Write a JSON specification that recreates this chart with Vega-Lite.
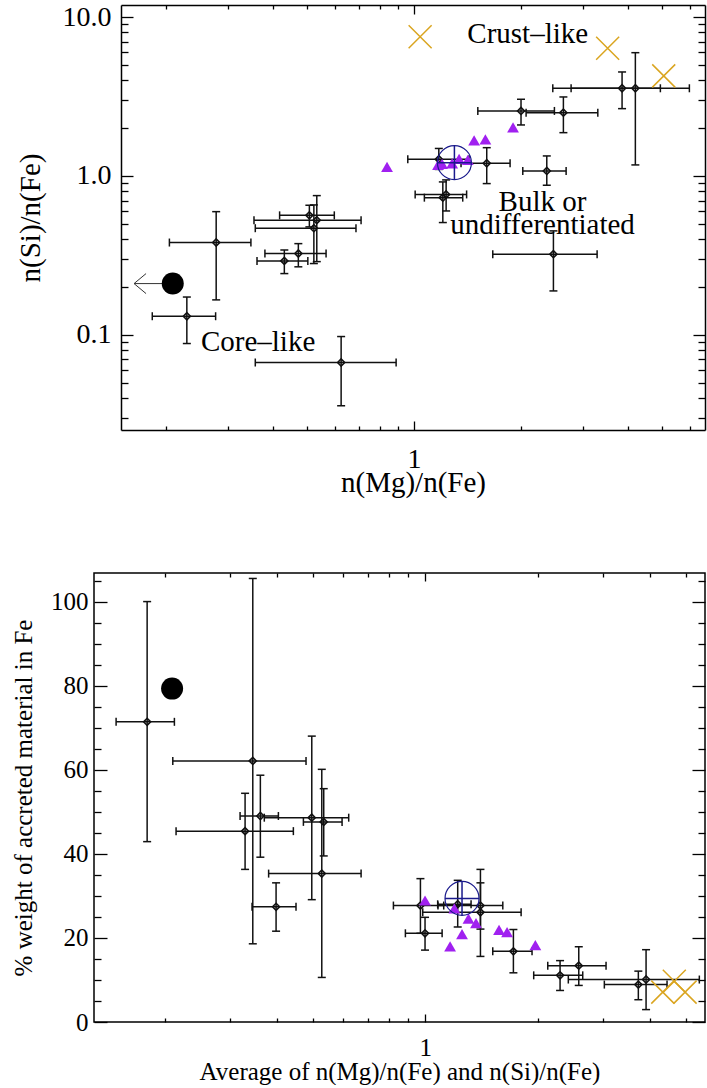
{
  "$schema": "https://vega.github.io/schema/vega-lite/v6.json",
  "padding": {"left": 10, "top": 3, "right": 0, "bottom": 0},
  "background": "white",
  "config": {
    "font": "Liberation Serif, Times New Roman, DejaVu Serif, serif",
    "axis": {"labelFont": "Liberation Serif, Times New Roman, DejaVu Serif, serif", "titleFont": "Liberation Serif, Times New Roman, DejaVu Serif, serif", "labelColor": "black", "titleColor": "black", "tickColor": "black", "domainColor": "black", "grid": false, "titleFontWeight": "normal", "tickWidth": 1.3, "domainWidth": 1.5, "labelOverlap": false, "labelFlush": false},
    "text": {"font": "Liberation Serif, Times New Roman, DejaVu Serif, serif"}
  },
  "datasets": {
    "top_pts": [
      {"mg": 0.277, "mg_lo": 0.2045, "mg_hi": 0.347, "si": 0.381, "si_lo": 0.166, "si_hi": 0.596},
      {"mg": 0.229, "mg_lo": 0.183, "mg_hi": 0.276, "si": 0.131, "si_lo": 0.0882, "si_hi": 0.173},
      {"mg": 0.623, "mg_lo": 0.357, "mg_hi": 0.890, "si": 0.067, "si_lo": 0.0358, "si_hi": 0.0976},
      {"mg": 0.507, "mg_lo": 0.418, "mg_hi": 0.596, "si": 0.565, "si_lo": 0.478, "si_hi": 0.654},
      {"mg": 0.532, "mg_lo": 0.354, "mg_hi": 0.709, "si": 0.527, "si_lo": 0.289, "si_hi": 0.752},
      {"mg": 0.522, "mg_lo": 0.357, "mg_hi": 0.686, "si": 0.469, "si_lo": 0.281, "si_hi": 0.657},
      {"mg": 0.472, "mg_lo": 0.380, "mg_hi": 0.565, "si": 0.325, "si_lo": 0.268, "si_hi": 0.375},
      {"mg": 0.431, "mg_lo": 0.361, "mg_hi": 0.502, "si": 0.292, "si_lo": 0.243, "si_hi": 0.342},
      {"mg": 1.174, "mg_lo": 0.960, "mg_hi": 1.428, "si": 1.274, "si_lo": 1.099, "si_hi": 1.489},
      {"mg": 1.602, "mg_lo": 1.356, "mg_hi": 1.864, "si": 1.202, "si_lo": 0.895, "si_hi": 1.506},
      {"mg": 2.365, "mg_lo": 2.024, "mg_hi": 2.681, "si": 1.075, "si_lo": 0.874, "si_hi": 1.336},
      {"mg": 1.231, "mg_lo": 1.007, "mg_hi": 1.406, "si": 0.765, "si_lo": 0.602, "si_hi": 0.944},
      {"mg": 1.205, "mg_lo": 1.069, "mg_hi": 1.371, "si": 0.730, "si_lo": 0.509, "si_hi": 0.917},
      {"mg": 2.001, "mg_lo": 1.512, "mg_hi": 2.485, "si": 2.564, "si_lo": 2.093, "si_hi": 3.037},
      {"mg": 2.634, "mg_lo": 2.068, "mg_hi": 3.293, "si": 2.501, "si_lo": 1.872, "si_hi": 3.14},
      {"mg": 3.854, "mg_lo": 2.459, "mg_hi": 5.964, "si": 3.561, "si_lo": 2.651, "si_hi": 4.51},
      {"mg": 4.201, "mg_lo": 2.769, "mg_hi": 4.941, "si": 3.561, "si_lo": 1.173, "si_hi": 5.964},
      {"mg": 2.469, "mg_lo": 1.666, "mg_hi": 3.278, "si": 0.322, "si_lo": 0.189, "si_hi": 0.451}
    ],
    "top_tri": [
      {"mg": 0.839, "si": 1.139}, {"mg": 1.168, "si": 1.172}, {"mg": 1.199, "si": 1.19},
      {"mg": 1.28, "si": 1.198}, {"mg": 1.339, "si": 1.279}, {"mg": 1.417, "si": 1.26},
      {"mg": 1.476, "si": 1.672}, {"mg": 1.588, "si": 1.696}, {"mg": 1.90, "si": 2.018}
    ],
    "top_crust": [{"mg": 1.040, "si": 7.52}, {"mg": 3.51, "si": 6.36}, {"mg": 5.05, "si": 4.26}],
    "top_core": [{"mg": 0.209, "si": 0.2102, "tip": 0.1627, "head": 0.1735}],
    "top_earth": [{"mg": 1.299, "si": 1.212}],
    "top_text": [
      {"mg": 2.09, "si": 6.89, "label": "Crust–like"},
      {"mg": 2.30, "si": 0.6025, "label": "Bulk or"},
      {"mg": 2.30, "si": 0.43, "label": "undifferentiated"},
      {"mg": 0.3635, "si": 0.0793, "label": "Core–like"}
    ],
    "bot_pts": [
      {"avg": 0.1795, "avg_lo": 0.1482, "avg_hi": 0.2124, "fe": 71.4, "fe_lo": 42.9, "fe_hi": 100},
      {"avg": 0.3446, "avg_lo": 0.2103, "avg_hi": 0.4787, "fe": 62.1, "fe_lo": 18.6, "fe_hi": 105.5},
      {"avg": 0.3286, "avg_lo": 0.2146, "avg_hi": 0.4427, "fe": 45.4, "fe_lo": 36.3, "fe_hi": 54.4},
      {"avg": 0.3611, "avg_lo": 0.3186, "avg_hi": 0.4036, "fe": 49.0, "fe_lo": 39.2, "fe_hi": 58.7},
      {"avg": 0.4960, "avg_lo": 0.370, "avg_hi": 0.623, "fe": 48.6, "fe_lo": 29.1, "fe_hi": 68.0},
      {"avg": 0.534, "avg_lo": 0.471, "avg_hi": 0.598, "fe": 47.6, "fe_lo": 39.5, "fe_hi": 55.5},
      {"avg": 0.5276, "avg_lo": 0.380, "avg_hi": 0.6725, "fe": 35.3, "fe_lo": 10.6, "fe_hi": 60.1},
      {"avg": 0.3979, "avg_lo": 0.343, "avg_hi": 0.450, "fe": 27.4, "fe_lo": 21.6, "fe_hi": 33.1},
      {"avg": 0.970, "avg_lo": 0.821, "avg_hi": 1.12, "fe": 27.7, "fe_lo": 21.1, "fe_hi": 34.1},
      {"avg": 0.998, "avg_lo": 0.884, "avg_hi": 1.109, "fe": 21.1, "fe_lo": 17.1, "fe_hi": 24.9},
      {"avg": 1.221, "avg_lo": 1.079, "avg_hi": 1.326, "fe": 28.0, "fe_lo": 22.6, "fe_hi": 33.7},
      {"avg": 1.405, "avg_lo": 1.081, "avg_hi": 1.613, "fe": 27.7, "fe_lo": 15.6, "fe_hi": 36.3},
      {"avg": 1.405, "avg_lo": 0.984, "avg_hi": 1.806, "fe": 26.1, "fe_lo": 22.1, "fe_hi": 33.1},
      {"avg": 1.722, "avg_lo": 1.516, "avg_hi": 1.932, "fe": 16.8, "fe_lo": 11.7, "fe_hi": 22.0},
      {"avg": 2.297, "avg_lo": 1.952, "avg_hi": 2.642, "fe": 11.1, "fe_lo": 7.5, "fe_hi": 14.6},
      {"avg": 2.578, "avg_lo": 2.129, "avg_hi": 3.051, "fe": 13.4, "fe_lo": 8.7, "fe_hi": 17.9},
      {"avg": 3.724, "avg_lo": 3.019, "avg_hi": 4.446, "fe": 8.9, "fe_lo": 5.3, "fe_hi": 12.1},
      {"avg": 3.906, "avg_lo": 2.417, "avg_hi": 5.427, "fe": 10.1, "fe_lo": 2.95, "fe_hi": 17.2}
    ],
    "bot_tri": [
      {"avg": 0.998, "fe": 28.9}, {"avg": 1.196, "fe": 27.0}, {"avg": 1.305, "fe": 24.6},
      {"avg": 1.367, "fe": 23.5}, {"avg": 1.576, "fe": 21.9}, {"avg": 1.656, "fe": 21.4},
      {"avg": 1.972, "fe": 18.3}, {"avg": 1.254, "fe": 20.9}, {"avg": 1.165, "fe": 18.0}
    ],
    "bot_crust": [{"avg": 4.33, "fe": 7.1}, {"avg": 4.65, "fe": 9.7}, {"avg": 4.97, "fe": 7.1}],
    "bot_core": [{"avg": 0.2094, "fe": 79.3}],
    "bot_earth": [{"avg": 1.254, "fe": 29.4}]
  },
  "vconcat": [
    {
      "width": 611,
      "height": 425,
      "view": {"stroke": null},
      "resolve": {"axis": {"x": "independent", "y": "independent"}},
      "layer": [
        {
          "data": {"name": "top_pts"},
          "mark": {"type": "point", "opacity": 0},
          "encoding": {
            "x": {"field": "mg", "type": "quantitative", "scale": {"type": "log", "domain": [0.1494, 6.6], "range": [27, 611]},
                  "axis": {"orient": "bottom", "values": [1], "labelExpr": "'1'", "tickSize": -9, "labelPadding": 24, "labelFontSize": 28, "title": "n(Mg)/n(Fe)", "titleFontSize": 29, "titleY": 61, "titleBaseline": "alphabetic", "domain": true}},
            "y": {"field": "si", "type": "quantitative", "scale": {"type": "log", "domain": [0.0252, 11.9]},
                  "axis": {"orient": "left", "offset": -27, "values": [0.1, 1, 10], "labelExpr": "datum.value > 5 ? '10.0' : datum.value > 0.5 ? '1.0' : '0.1'", "tickSize": -12, "labelPadding": 22, "labelFontSize": 28, "title": "n(Si)/n(Fe)", "titleFontSize": 29, "titleX": -82, "titleBaseline": "alphabetic", "domain": true}}
          }
        },
        {
          "data": {"name": "top_pts"},
          "mark": {"type": "point", "opacity": 0},
          "encoding": {
            "x": {"field": "mg", "type": "quantitative", "scale": {"type": "log", "domain": [0.1494, 6.6], "range": [27, 611]},
                  "axis": {"orient": "bottom", "values": [0.2, 0.3, 0.4, 0.5, 0.6, 0.7, 0.8, 0.9, 2, 3, 4, 5, 6], "labels": false, "tickSize": -4, "domain": false, "title": null}},
            "y": {"field": "si", "type": "quantitative", "scale": {"type": "log", "domain": [0.0252, 11.9]},
                  "axis": {"orient": "left", "offset": -27, "values": [0.03, 0.04, 0.05, 0.06, 0.07, 0.08, 0.09, 0.2, 0.3, 0.4, 0.5, 0.6, 0.7, 0.8, 0.9, 2, 3, 4, 5, 6, 7, 8, 9], "labels": false, "tickSize": -7, "domain": false, "title": null}}
          }
        },
        {
          "data": {"name": "top_pts"},
          "mark": {"type": "point", "opacity": 0},
          "encoding": {
            "x": {"field": "mg", "type": "quantitative", "scale": {"type": "log", "domain": [0.1494, 6.6], "range": [27, 611]},
                  "axis": {"orient": "top", "values": [1], "labels": false, "tickSize": -9, "domain": true, "title": null}},
            "y": {"field": "si", "type": "quantitative", "scale": {"type": "log", "domain": [0.0252, 11.9]},
                  "axis": {"orient": "right", "values": [0.1, 1, 10], "labels": false, "tickSize": -12, "domain": true, "title": null}}
          }
        },
        {
          "data": {"name": "top_pts"},
          "mark": {"type": "point", "opacity": 0},
          "encoding": {
            "x": {"field": "mg", "type": "quantitative", "scale": {"type": "log", "domain": [0.1494, 6.6], "range": [27, 611]},
                  "axis": {"orient": "top", "values": [0.2, 0.3, 0.4, 0.5, 0.6, 0.7, 0.8, 0.9, 2, 3, 4, 5, 6], "labels": false, "tickSize": -4, "domain": false, "title": null}},
            "y": {"field": "si", "type": "quantitative", "scale": {"type": "log", "domain": [0.0252, 11.9]},
                  "axis": {"orient": "right", "values": [0.03, 0.04, 0.05, 0.06, 0.07, 0.08, 0.09, 0.2, 0.3, 0.4, 0.5, 0.6, 0.7, 0.8, 0.9, 2, 3, 4, 5, 6, 7, 8, 9], "labels": false, "tickSize": -7, "domain": false, "title": null}}
          }
        },
        {
          "data": {"name": "top_pts"},
          "mark": {"type": "rule", "color": "#111111", "strokeWidth": 1.5},
          "encoding": {
            "x": {"field": "mg_lo", "type": "quantitative", "scale": {"type": "log", "domain": [0.1494, 6.6], "range": [27, 611]}, "axis": null},
            "x2": {"field": "mg_hi"},
            "y": {"field": "si", "type": "quantitative", "scale": {"type": "log", "domain": [0.0252, 11.9]}, "axis": null}
          }
        },
        {
          "data": {"name": "top_pts"},
          "mark": {"type": "rule", "color": "#111111", "strokeWidth": 1.5},
          "encoding": {
            "x": {"field": "mg", "type": "quantitative", "scale": {"type": "log", "domain": [0.1494, 6.6], "range": [27, 611]}, "axis": null},
            "y": {"field": "si_lo", "type": "quantitative", "scale": {"type": "log", "domain": [0.0252, 11.9]}, "axis": null},
            "y2": {"field": "si_hi"}
          }
        },
        {
          "data": {"name": "top_pts"},
          "mark": {"type": "point", "shape": "M0,-1L0,1", "size": 64, "filled": false, "color": "#111111", "strokeWidth": 1.5, "opacity": 1},
          "encoding": {
            "x": {"field": "mg_lo", "type": "quantitative", "scale": {"type": "log", "domain": [0.1494, 6.6], "range": [27, 611]}, "axis": null},
            "y": {"field": "si", "type": "quantitative", "scale": {"type": "log", "domain": [0.0252, 11.9]}, "axis": null}
          }
        },
        {
          "data": {"name": "top_pts"},
          "mark": {"type": "point", "shape": "M0,-1L0,1", "size": 64, "filled": false, "color": "#111111", "strokeWidth": 1.5, "opacity": 1},
          "encoding": {
            "x": {"field": "mg_hi", "type": "quantitative", "scale": {"type": "log", "domain": [0.1494, 6.6], "range": [27, 611]}, "axis": null},
            "y": {"field": "si", "type": "quantitative", "scale": {"type": "log", "domain": [0.0252, 11.9]}, "axis": null}
          }
        },
        {
          "data": {"name": "top_pts"},
          "mark": {"type": "point", "shape": "M-1,0L1,0", "size": 64, "filled": false, "color": "#111111", "strokeWidth": 1.5, "opacity": 1},
          "encoding": {
            "x": {"field": "mg", "type": "quantitative", "scale": {"type": "log", "domain": [0.1494, 6.6], "range": [27, 611]}, "axis": null},
            "y": {"field": "si_lo", "type": "quantitative", "scale": {"type": "log", "domain": [0.0252, 11.9]}, "axis": null}
          }
        },
        {
          "data": {"name": "top_pts"},
          "mark": {"type": "point", "shape": "M-1,0L1,0", "size": 64, "filled": false, "color": "#111111", "strokeWidth": 1.5, "opacity": 1},
          "encoding": {
            "x": {"field": "mg", "type": "quantitative", "scale": {"type": "log", "domain": [0.1494, 6.6], "range": [27, 611]}, "axis": null},
            "y": {"field": "si_hi", "type": "quantitative", "scale": {"type": "log", "domain": [0.0252, 11.9]}, "axis": null}
          }
        },
        {
          "data": {"name": "top_pts"},
          "mark": {"type": "point", "shape": "diamond", "size": 50, "filled": false, "color": "#111111", "strokeWidth": 1.6, "opacity": 1},
          "encoding": {
            "x": {"field": "mg", "type": "quantitative", "scale": {"type": "log", "domain": [0.1494, 6.6], "range": [27, 611]}, "axis": null},
            "y": {"field": "si", "type": "quantitative", "scale": {"type": "log", "domain": [0.0252, 11.9]}, "axis": null}
          }
        },
        {
          "data": {"name": "top_tri"},
          "mark": {"type": "point", "shape": "triangle-up", "size": 140, "filled": true, "color": "#A020F0", "opacity": 1},
          "encoding": {
            "x": {"field": "mg", "type": "quantitative", "scale": {"type": "log", "domain": [0.1494, 6.6], "range": [27, 611]}, "axis": null},
            "y": {"field": "si", "type": "quantitative", "scale": {"type": "log", "domain": [0.0252, 11.9]}, "axis": null}
          }
        },
        {
          "data": {"name": "top_crust"},
          "mark": {"type": "point", "shape": "M-1,-1L1,1M-1,1L1,-1", "size": 529, "filled": false, "color": "#DAA520", "strokeWidth": 1.5, "opacity": 1},
          "encoding": {
            "x": {"field": "mg", "type": "quantitative", "scale": {"type": "log", "domain": [0.1494, 6.6], "range": [27, 611]}, "axis": null},
            "y": {"field": "si", "type": "quantitative", "scale": {"type": "log", "domain": [0.0252, 11.9]}, "axis": null}
          }
        },
        {
          "data": {"name": "top_earth"},
          "mark": {"type": "point", "shape": "circle", "size": 1156, "filled": false, "color": "#1a1a8c", "strokeWidth": 1.2, "opacity": 1},
          "encoding": {
            "x": {"field": "mg", "type": "quantitative", "scale": {"type": "log", "domain": [0.1494, 6.6], "range": [27, 611]}, "axis": null},
            "y": {"field": "si", "type": "quantitative", "scale": {"type": "log", "domain": [0.0252, 11.9]}, "axis": null}
          }
        },
        {
          "data": {"name": "top_earth"},
          "mark": {"type": "point", "shape": "M-1,0L1,0M0,-1L0,1", "size": 1156, "filled": false, "color": "#1a1a8c", "strokeWidth": 1.5, "opacity": 1},
          "encoding": {
            "x": {"field": "mg", "type": "quantitative", "scale": {"type": "log", "domain": [0.1494, 6.6], "range": [27, 611]}, "axis": null},
            "y": {"field": "si", "type": "quantitative", "scale": {"type": "log", "domain": [0.0252, 11.9]}, "axis": null}
          }
        },
        {
          "data": {"name": "top_core"},
          "mark": {"type": "rule", "color": "#333333", "strokeWidth": 1},
          "encoding": {
            "x": {"field": "tip", "type": "quantitative", "scale": {"type": "log", "domain": [0.1494, 6.6], "range": [27, 611]}, "axis": null},
            "x2": {"field": "mg"},
            "y": {"field": "si", "type": "quantitative", "scale": {"type": "log", "domain": [0.0252, 11.9]}, "axis": null}
          }
        },
        {
          "data": {"name": "top_core"},
          "mark": {"type": "point", "shape": "M0.2,-1L-1,0L0.2,1", "size": 400, "filled": false, "color": "#333333", "strokeWidth": 1, "opacity": 1},
          "encoding": {
            "x": {"field": "head", "type": "quantitative", "scale": {"type": "log", "domain": [0.1494, 6.6], "range": [27, 611]}, "axis": null},
            "y": {"field": "si", "type": "quantitative", "scale": {"type": "log", "domain": [0.0252, 11.9]}, "axis": null}
          }
        },
        {
          "data": {"name": "top_core"},
          "mark": {"type": "point", "shape": "circle", "size": 484, "filled": true, "color": "black", "opacity": 1},
          "encoding": {
            "x": {"field": "mg", "type": "quantitative", "scale": {"type": "log", "domain": [0.1494, 6.6], "range": [27, 611]}, "axis": null},
            "y": {"field": "si", "type": "quantitative", "scale": {"type": "log", "domain": [0.0252, 11.9]}, "axis": null}
          }
        },
        {
          "data": {"name": "top_text"},
          "mark": {"type": "text", "font": "Liberation Serif, Times New Roman, DejaVu Serif, serif", "fontSize": 29, "align": "center", "baseline": "alphabetic", "color": "black"},
          "encoding": {
            "x": {"field": "mg", "type": "quantitative", "scale": {"type": "log", "domain": [0.1494, 6.6], "range": [27, 611]}, "axis": null},
            "y": {"field": "si", "type": "quantitative", "scale": {"type": "log", "domain": [0.0252, 11.9]}, "axis": null},
            "text": {"field": "label", "type": "nominal"}
          }
        }
      ]
    },
    {
      "width": 611,
      "height": 449,
      "view": {"stroke": "black", "strokeWidth": 1.5},
      "resolve": {"axis": {"x": "independent", "y": "independent"}},
      "layer": [
        {
          "data": {"name": "bot_pts"},
          "mark": {"type": "point", "opacity": 0},
          "encoding": {
            "x": {"field": "avg", "type": "quantitative", "scale": {"type": "log", "domain": [0.1293, 5.62]},
                  "axis": {"orient": "bottom", "values": [1], "labelExpr": "'1'", "tickSize": -8, "labelPadding": 21, "labelFontSize": 25, "title": "Average of n(Mg)/n(Fe) and n(Si)/n(Fe)", "titleFontSize": 25, "titleY": 57, "titleBaseline": "alphabetic", "domain": false}},
            "y": {"field": "fe", "type": "quantitative", "scale": {"type": "linear", "domain": [0, 106.8], "nice": false, "zero": false},
                  "axis": {"orient": "left", "values": [0, 20, 40, 60, 80, 100], "tickSize": -13, "labelPadding": 19, "labelFontSize": 25, "title": "% weight of accreted material in Fe", "titleFontSize": 25, "titleX": -63, "titleBaseline": "alphabetic", "domain": false}}
          }
        },
        {
          "data": {"name": "bot_pts"},
          "mark": {"type": "point", "opacity": 0},
          "encoding": {
            "x": {"field": "avg", "type": "quantitative", "scale": {"type": "log", "domain": [0.1293, 5.62]},
                  "axis": {"orient": "bottom", "values": [0.2, 0.3, 0.4, 0.5, 0.6, 0.7, 0.8, 0.9, 2, 3, 4, 5], "labels": false, "tickSize": -4, "domain": false, "title": null}},
            "y": {"field": "fe", "type": "quantitative", "scale": {"type": "linear", "domain": [0, 106.8], "nice": false, "zero": false},
                  "axis": {"orient": "left", "values": [5, 10, 15, 25, 30, 35, 45, 50, 55, 65, 70, 75, 85, 90, 95, 105], "labels": false, "tickSize": -7, "domain": false, "title": null}}
          }
        },
        {
          "data": {"name": "bot_pts"},
          "mark": {"type": "point", "opacity": 0},
          "encoding": {
            "x": {"field": "avg", "type": "quantitative", "scale": {"type": "log", "domain": [0.1293, 5.62]},
                  "axis": {"orient": "top", "values": [1], "labels": false, "tickSize": -8, "domain": false, "title": null}},
            "y": {"field": "fe", "type": "quantitative", "scale": {"type": "linear", "domain": [0, 106.8], "nice": false, "zero": false},
                  "axis": {"orient": "right", "values": [0, 20, 40, 60, 80, 100], "labels": false, "tickSize": -13, "domain": false, "title": null}}
          }
        },
        {
          "data": {"name": "bot_pts"},
          "mark": {"type": "point", "opacity": 0},
          "encoding": {
            "x": {"field": "avg", "type": "quantitative", "scale": {"type": "log", "domain": [0.1293, 5.62]},
                  "axis": {"orient": "top", "values": [0.2, 0.3, 0.4, 0.5, 0.6, 0.7, 0.8, 0.9, 2, 3, 4, 5], "labels": false, "tickSize": -4, "domain": false, "title": null}},
            "y": {"field": "fe", "type": "quantitative", "scale": {"type": "linear", "domain": [0, 106.8], "nice": false, "zero": false},
                  "axis": {"orient": "right", "values": [5, 10, 15, 25, 30, 35, 45, 50, 55, 65, 70, 75, 85, 90, 95, 105], "labels": false, "tickSize": -7, "domain": false, "title": null}}
          }
        },
        {
          "data": {"name": "bot_pts"},
          "mark": {"type": "rule", "color": "#111111", "strokeWidth": 1.5},
          "encoding": {
            "x": {"field": "avg_lo", "type": "quantitative", "scale": {"type": "log", "domain": [0.1293, 5.62]}, "axis": null},
            "x2": {"field": "avg_hi"},
            "y": {"field": "fe", "type": "quantitative", "scale": {"type": "linear", "domain": [0, 106.8], "nice": false, "zero": false}, "axis": null}
          }
        },
        {
          "data": {"name": "bot_pts"},
          "mark": {"type": "rule", "color": "#111111", "strokeWidth": 1.5},
          "encoding": {
            "x": {"field": "avg", "type": "quantitative", "scale": {"type": "log", "domain": [0.1293, 5.62]}, "axis": null},
            "y": {"field": "fe_lo", "type": "quantitative", "scale": {"type": "linear", "domain": [0, 106.8], "nice": false, "zero": false}, "axis": null},
            "y2": {"field": "fe_hi"}
          }
        },
        {
          "data": {"name": "bot_pts"},
          "mark": {"type": "point", "shape": "M0,-1L0,1", "size": 64, "filled": false, "color": "#111111", "strokeWidth": 1.5, "opacity": 1},
          "encoding": {
            "x": {"field": "avg_lo", "type": "quantitative", "scale": {"type": "log", "domain": [0.1293, 5.62]}, "axis": null},
            "y": {"field": "fe", "type": "quantitative", "scale": {"type": "linear", "domain": [0, 106.8], "nice": false, "zero": false}, "axis": null}
          }
        },
        {
          "data": {"name": "bot_pts"},
          "mark": {"type": "point", "shape": "M0,-1L0,1", "size": 64, "filled": false, "color": "#111111", "strokeWidth": 1.5, "opacity": 1},
          "encoding": {
            "x": {"field": "avg_hi", "type": "quantitative", "scale": {"type": "log", "domain": [0.1293, 5.62]}, "axis": null},
            "y": {"field": "fe", "type": "quantitative", "scale": {"type": "linear", "domain": [0, 106.8], "nice": false, "zero": false}, "axis": null}
          }
        },
        {
          "data": {"name": "bot_pts"},
          "mark": {"type": "point", "shape": "M-1,0L1,0", "size": 64, "filled": false, "color": "#111111", "strokeWidth": 1.5, "opacity": 1},
          "encoding": {
            "x": {"field": "avg", "type": "quantitative", "scale": {"type": "log", "domain": [0.1293, 5.62]}, "axis": null},
            "y": {"field": "fe_lo", "type": "quantitative", "scale": {"type": "linear", "domain": [0, 106.8], "nice": false, "zero": false}, "axis": null}
          }
        },
        {
          "data": {"name": "bot_pts"},
          "mark": {"type": "point", "shape": "M-1,0L1,0", "size": 64, "filled": false, "color": "#111111", "strokeWidth": 1.5, "opacity": 1},
          "encoding": {
            "x": {"field": "avg", "type": "quantitative", "scale": {"type": "log", "domain": [0.1293, 5.62]}, "axis": null},
            "y": {"field": "fe_hi", "type": "quantitative", "scale": {"type": "linear", "domain": [0, 106.8], "nice": false, "zero": false}, "axis": null}
          }
        },
        {
          "data": {"name": "bot_pts"},
          "mark": {"type": "point", "shape": "diamond", "size": 50, "filled": false, "color": "#111111", "strokeWidth": 1.6, "opacity": 1},
          "encoding": {
            "x": {"field": "avg", "type": "quantitative", "scale": {"type": "log", "domain": [0.1293, 5.62]}, "axis": null},
            "y": {"field": "fe", "type": "quantitative", "scale": {"type": "linear", "domain": [0, 106.8], "nice": false, "zero": false}, "axis": null}
          }
        },
        {
          "data": {"name": "bot_tri"},
          "mark": {"type": "point", "shape": "triangle-up", "size": 140, "filled": true, "color": "#A020F0", "opacity": 1},
          "encoding": {
            "x": {"field": "avg", "type": "quantitative", "scale": {"type": "log", "domain": [0.1293, 5.62]}, "axis": null},
            "y": {"field": "fe", "type": "quantitative", "scale": {"type": "linear", "domain": [0, 106.8], "nice": false, "zero": false}, "axis": null}
          }
        },
        {
          "data": {"name": "bot_crust"},
          "mark": {"type": "point", "shape": "M-1,-1L1,1M-1,1L1,-1", "size": 529, "filled": false, "color": "#DAA520", "strokeWidth": 1.5, "opacity": 1},
          "encoding": {
            "x": {"field": "avg", "type": "quantitative", "scale": {"type": "log", "domain": [0.1293, 5.62]}, "axis": null},
            "y": {"field": "fe", "type": "quantitative", "scale": {"type": "linear", "domain": [0, 106.8], "nice": false, "zero": false}, "axis": null}
          }
        },
        {
          "data": {"name": "bot_earth"},
          "mark": {"type": "point", "shape": "circle", "size": 1156, "filled": false, "color": "#1a1a8c", "strokeWidth": 1.2, "opacity": 1},
          "encoding": {
            "x": {"field": "avg", "type": "quantitative", "scale": {"type": "log", "domain": [0.1293, 5.62]}, "axis": null},
            "y": {"field": "fe", "type": "quantitative", "scale": {"type": "linear", "domain": [0, 106.8], "nice": false, "zero": false}, "axis": null}
          }
        },
        {
          "data": {"name": "bot_earth"},
          "mark": {"type": "point", "shape": "M-1,0L1,0M0,-1L0,1", "size": 1156, "filled": false, "color": "#1a1a8c", "strokeWidth": 1.5, "opacity": 1},
          "encoding": {
            "x": {"field": "avg", "type": "quantitative", "scale": {"type": "log", "domain": [0.1293, 5.62]}, "axis": null},
            "y": {"field": "fe", "type": "quantitative", "scale": {"type": "linear", "domain": [0, 106.8], "nice": false, "zero": false}, "axis": null}
          }
        },
        {
          "data": {"name": "bot_core"},
          "mark": {"type": "point", "shape": "circle", "size": 484, "filled": true, "color": "black", "opacity": 1},
          "encoding": {
            "x": {"field": "avg", "type": "quantitative", "scale": {"type": "log", "domain": [0.1293, 5.62]}, "axis": null},
            "y": {"field": "fe", "type": "quantitative", "scale": {"type": "linear", "domain": [0, 106.8], "nice": false, "zero": false}, "axis": null}
          }
        }
      ]
    }
  ],
  "spacing": 143,
  "bounds": "flush"
}
